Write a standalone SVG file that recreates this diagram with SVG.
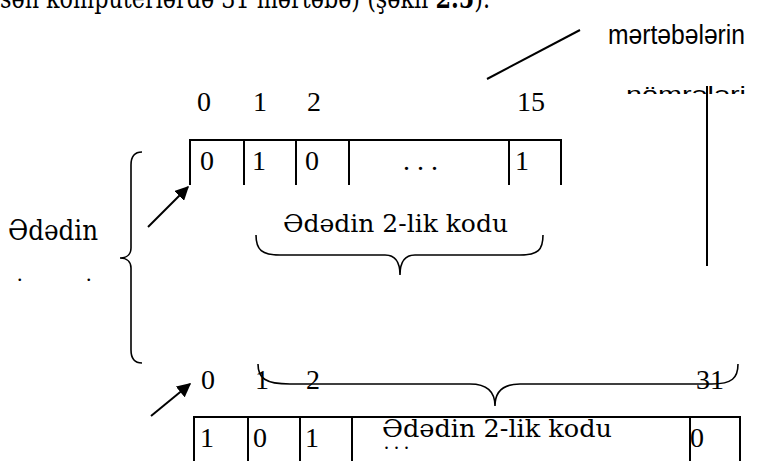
<svg xmlns="http://www.w3.org/2000/svg" width="765" height="461" viewBox="0 0 765 461">
  <style>
    .serif { font-family: "Liberation Serif", "DejaVu Serif", "Times New Roman", serif; fill: #000; }
    .az { font-family: "DejaVu Serif", "Liberation Serif", serif; fill: #000; }
    .sans { font-family: "Liberation Sans", "DejaVu Sans", Arial, sans-serif; fill: #000; }
    .num { font-size: 28px; }
    .ln { stroke: #000; stroke-width: 2; fill: none; }
    .thin { stroke: #000; stroke-width: 1.6; fill: none; }
  </style>
  <defs>
    <marker id="arrowhead" viewBox="0 0 10 10" refX="9" refY="5" markerWidth="7" markerHeight="7" markerUnits="strokeWidth" orient="auto">
      <path d="M0,0 L10,5 L0,10 z" fill="#000"/>
    </marker>
    <clipPath id="noteClip">
      <rect x="600" y="86" width="165" height="8"/>
    </clipPath>
  </defs>
  <rect width="765" height="461" fill="#fff"/>

  <!-- running text line cut off at the top edge -->
  <text class="az" x="0" y="8" font-size="28" textLength="490" lengthAdjust="spacingAndGlyphs">sən kompüterlərdə 31 mərtəbə) (şəkil <tspan font-weight="bold">2.5</tspan>).</text>

  <!-- note: bit position numbers -->
  <g id="note">
    <text class="sans" x="608" y="44" font-size="27" textLength="137" lengthAdjust="spacingAndGlyphs">mərtəbələrin</text>
    <text class="sans" x="626" y="102" font-size="22" textLength="120" lengthAdjust="spacingAndGlyphs" clip-path="url(#noteClip)">nömrələri</text>
  </g>

  <!-- 16-bit register -->
  <g id="register16">
    <g class="serif num">
      <text x="197" y="111">0</text>
      <text x="253" y="111">1</text>
      <text x="307" y="111">2</text>
      <text x="517" y="111">15</text>
      <text x="200" y="170">0</text>
      <text x="252" y="170">1</text>
      <text x="305" y="170">0</text>
      <text x="403" y="170">. . .</text>
      <text x="515" y="170">1</text>
    </g>
    <path class="ln" d="M190,185 V140 H561 V185 M244,140 V185 M296,140 V185 M349,140 V185 M509,140 V185"/>
    <text class="az" x="283" y="232" font-size="25" textLength="225" lengthAdjust="spacingAndGlyphs">Ədədin 2-lik kodu</text>
    <path class="thin" d="M256,235 C256,250 262,255 280,255 H385 C395,255 400,262 400,275 C400,262 405,255 415,255 H520 C538,255 543,250 543,235"/>
  </g>

  <!-- number label -->
  <g id="number">
    <text class="az" x="8" y="240" font-size="27" textLength="90" lengthAdjust="spacingAndGlyphs">Ədədin</text>
    <text class="serif" x="17" y="281" font-size="22">.</text>
    <text class="serif" x="86" y="281" font-size="22">.</text>
    <path class="thin" d="M142,152 C135,152 131,156 131,165 V248 C131,254 127,258 120,258 C127,258 131,262 131,268 V350 C131,359 135,363 142,363"/>
  </g>

  <!-- 32-bit register -->
  <g id="register32">
    <g class="serif num">
      <text x="201" y="389">0</text>
      <text x="255" y="389">1</text>
      <text x="306" y="389">2</text>
      <text x="696" y="389">31</text>
      <text x="200" y="447">1</text>
      <text x="253" y="447">0</text>
      <text x="305" y="447">1</text>
      <text x="690" y="447">0</text>
    </g>
    <path class="thin" d="M258,364 C258,378 265,384 290,384 H470 C488,384 495,392 495,406 C495,392 502,384 520,384 H712 C732,384 738,378 738,364"/>
    <path class="ln" d="M194,461 V417 H740 V461 M248,417 V461 M300,417 V461 M352,417 V461 M690,417 V461"/>
    <text class="az" x="382" y="437" font-size="25" textLength="230" lengthAdjust="spacingAndGlyphs">Ədədin 2-lik kodu</text>
    <text class="serif" x="384" y="449" font-size="20">. . .</text>
  </g>

  <!-- connectors -->
  <g id="connectors">
    <line class="ln" x1="148" y1="227" x2="188" y2="187" marker-end="url(#arrowhead)"/>
    <line class="ln" x1="151" y1="416" x2="190" y2="384" marker-end="url(#arrowhead)"/>
    <line class="ln" x1="487" y1="79" x2="580" y2="30"/>
    <line class="ln" x1="707" y1="86" x2="707" y2="266"/>
  </g>
</svg>
